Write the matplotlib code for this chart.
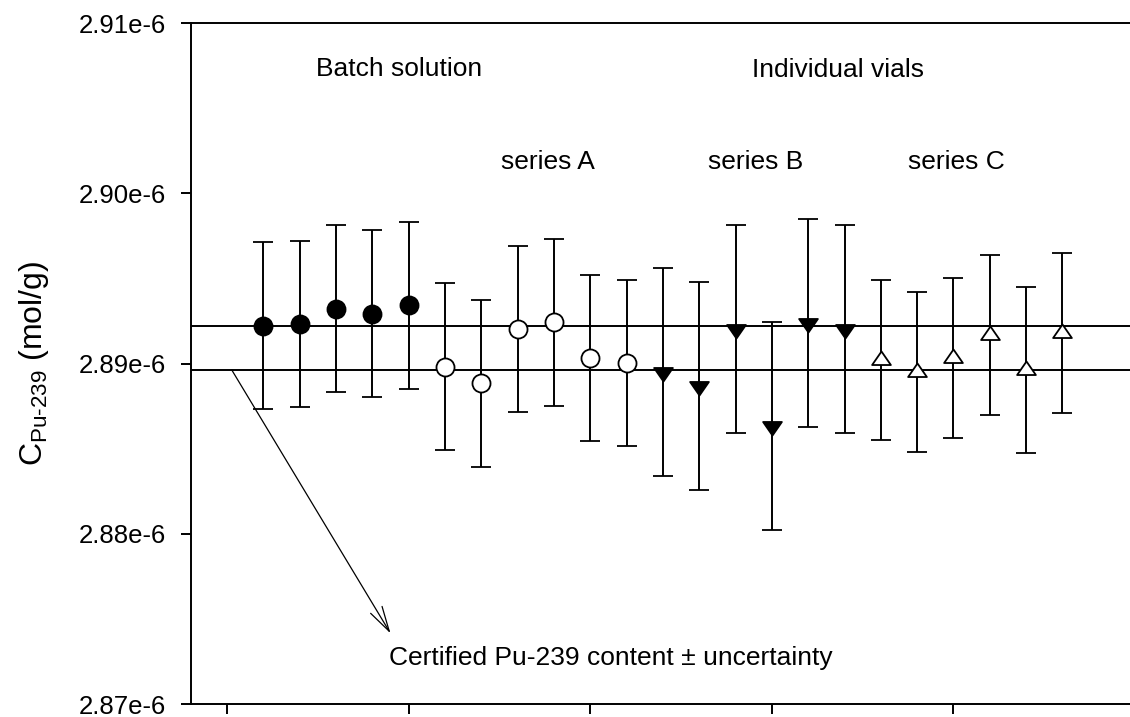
import matplotlib
matplotlib.use('Agg')
import matplotlib.pyplot as plt
from matplotlib.path import Path

plt.rcParams['font.family'] = ['Liberation Sans', 'DejaVu Sans']
plt.rcParams['mathtext.fontset'] = 'custom'
plt.rcParams['mathtext.rm'] = 'Liberation Sans'
plt.rcParams['mathtext.it'] = 'Liberation Sans'

# measured values (mol/g) and half-width of the error bars
batch_x = [1.2, 1.4, 1.6, 1.8, 2.0]
batch_y = [2.89222e-6, 2.89232e-6, 2.89322e-6, 2.89293e-6, 2.89342e-6]
batch_err = [4.9e-9, 4.9e-9, 4.9e-9, 4.9e-9, 4.9e-9]

a_x = [2.2, 2.4, 2.6, 2.8, 3.0, 3.2]
a_y = [2.88981e-6, 2.88884e-6, 2.89203e-6, 2.89242e-6, 2.89032e-6, 2.89003e-6]
a_err = [4.9e-9, 4.9e-9, 4.9e-9, 4.9e-9, 4.9e-9, 4.9e-9]

b_x = [3.4, 3.6, 3.8, 4.0, 4.2, 4.4]
b_y = [2.88951e-6, 2.88870e-6, 2.89201e-6, 2.88632e-6, 2.89240e-6, 2.89201e-6]
b_err = [6.1e-9, 6.1e-9, 6.1e-9, 6.1e-9, 6.1e-9, 6.1e-9]

c_x = [4.6, 4.8, 5.0, 5.2, 5.4, 5.6]
c_y = [2.89022e-6, 2.88951e-6, 2.89032e-6, 2.89170e-6, 2.88962e-6, 2.89181e-6]
c_err = [4.7e-9, 4.7e-9, 4.7e-9, 4.7e-9, 4.9e-9, 4.7e-9]

certified = [2.89222e-6, 2.88962e-6]   # upper / lower bound

y_ticks = [2.87e-6, 2.88e-6, 2.89e-6, 2.90e-6, 2.91e-6]
y_ticklabels = ['2.87e-6', '2.88e-6', '2.89e-6', '2.90e-6', '2.91e-6']
x_ticks = [1, 2, 3, 4, 5]

fig = plt.figure(figsize=(11.3, 7.17), dpi=100)
ax = fig.add_axes([0.1688, 0.0181, 0.8312, 0.9498])

for yv in certified:
    ax.axhline(yv, color='black', lw=1.4, zorder=1)

# wide triangles, centred on their centroid
tri_down = Path([(-9, 4.33), (9, 4.33), (0, -8.67), (-9, 4.33)], closed=True)
tri_up = Path([(-9, -4.33), (9, -4.33), (0, 8.67), (-9, -4.33)], closed=True)

common = dict(linestyle='none', ecolor='black', elinewidth=1.4, capsize=7.2,
              capthick=1.4, mec='black', mew=1.3, zorder=3)
ax.errorbar(batch_x, batch_y, yerr=batch_err, marker='o', ms=13, mfc='black', **common)
ax.errorbar(a_x, a_y, yerr=a_err, marker='o', ms=13, mfc='white', **common)
ax.errorbar(b_x, b_y, yerr=b_err, marker=tri_down, ms=13.5, mfc='black', **common)
ax.errorbar(c_x, c_y, yerr=c_err, marker=tri_up, ms=13.5, mfc='white', **common)

ax.set_xlim(0.8, 5.972)
ax.set_ylim(2.87e-6, 2.91e-6)
ax.set_xticks(x_ticks)
ax.set_xticklabels([])
ax.set_yticks(y_ticks)
ax.set_yticklabels(y_ticklabels)
ax.tick_params(direction='out', length=7, width=1.4, labelsize=18.5, pad=11)
ax.spines['right'].set_visible(False)
for s in ['left', 'bottom', 'top']:
    ax.spines[s].set_linewidth(1.4)

ax.set_ylabel(r'C$_{\text{Pu-239}}$ (mol/g)', fontsize=23, labelpad=20)

fs = 19
ax.text(1.488, 2.90689e-6, 'Batch solution', fontsize=fs, va='baseline')
ax.text(3.889, 2.90680e-6, 'Individual vials', fontsize=fs, va='baseline')
ax.text(2.509, 2.90140e-6, 'series A', fontsize=fs, va='baseline')
ax.text(3.650, 2.90140e-6, 'series B', fontsize=fs, va='baseline')
ax.text(4.752, 2.90140e-6, 'series C', fontsize=fs, va='baseline')
ax.text(1.894, 2.87229e-6, 'Certified Pu-239 content \u00b1 uncertainty', fontsize=fs, va='baseline')

ax.annotate('', xy=(1.90, 2.87415e-6), xytext=(1.026, certified[1]),
            arrowprops=dict(arrowstyle='->,head_length=1.8,head_width=0.48',
                            lw=0.9, color='black', shrinkA=0, shrinkB=0))

fig.savefig('out.png', dpi=100)
